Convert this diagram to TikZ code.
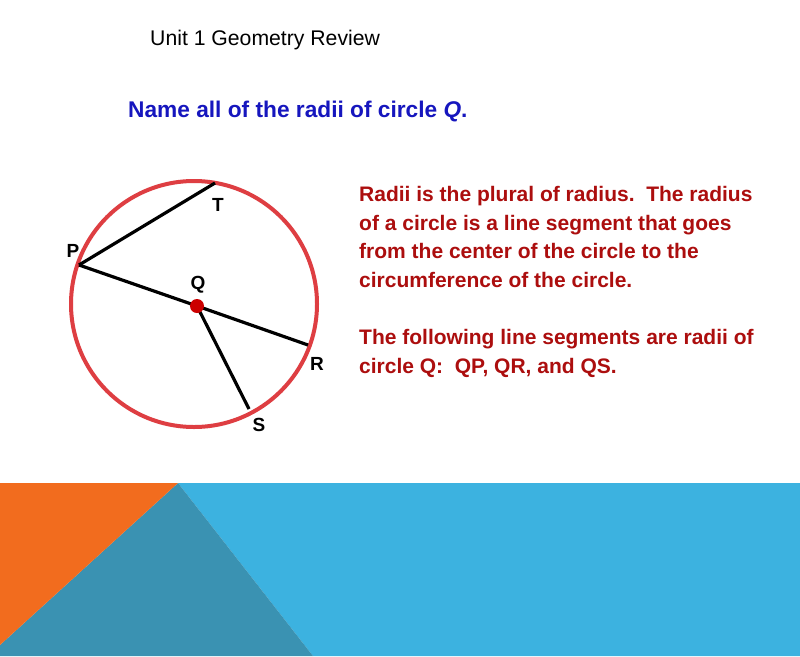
\documentclass[tikz,border=0pt]{standalone}
\usepackage{fontspec}
\setmainfont{Liberation Sans}
\usepackage{tikz}
\definecolor{ringred}{RGB}{222,62,66}
\definecolor{textred}{RGB}{172,14,14}
\definecolor{titleblue}{RGB}{22,22,190}
\definecolor{bandorange}{RGB}{242,108,30}
\definecolor{bandteal}{RGB}{58,146,178}
\definecolor{bandblue}{RGB}{60,178,224}
\tikzset{
  ptlabel/.style={font=\bfseries\fontsize{19}{19}\selectfont, inner sep=0pt},
  radius line/.style={line width=3.2pt, black}
}
\begin{document}
\begin{tikzpicture}[x=1pt,y=-1pt]
        \useasboundingbox (0,0) rectangle (800,656); % page
        \fill[white] (0,0) rectangle (800,656);
        % bands at the bottom
        \fill[bandblue] (178,483) -- (800,483) -- (800,656) -- (313,656) -- cycle;
        \fill[bandteal] (178,483) -- (313,656) -- (0,656) -- (0,645) -- cycle;
        \fill[bandorange] (0,483) -- (178,483) -- (0,645) -- cycle;
        % texts
        \node[anchor=base west, inner sep=0pt, font=\fontsize{21.2}{21.2}\selectfont] (title) at (150,45) {Unit 1 Geometry Review};
        \node[anchor=base west, inner sep=0pt, text=titleblue, font=\bfseries\fontsize{22.7}{22.7}\selectfont] (question) at (128,117) {Name all of the radii of circle \textit{Q}.};
        \node[anchor=north west, inner sep=0pt, align=left, text=textred, font=\bfseries\fontsize{21}{28.6}\selectfont] (answer) at (359,186)
          {Radii is the plural of radius.\ \ The radius\\ of a circle is a line segment that goes\\ from the center of the circle to the\\ circumference of the circle.\\[28.6pt] The following line segments are radii of\\ circle Q:\ \ QP, QR, and QS.};
        % circle
        \draw[ringred, line width=4pt] (194,304) circle (123); % окружность
        \coordinate (P) at (79,265);
        \coordinate (T) at (215,183);
        \coordinate (Q) at (197,306);
        \coordinate (R) at (308,345);
        \coordinate (S) at (249,409);
        \draw[radius line] (P) -- (T);
        \draw[radius line] (Q) -- (P);
        \draw[radius line] (Q) -- (R);
        \draw[radius line] (Q) -- (S);
        \fill[red!80!black] (Q) circle (7); % центр
        \node[ptlabel] (lP) at (73,251) {P};
        \node[ptlabel] (lT) at (218,205) {T};
        \node[ptlabel] (lQ) at (198,285) {Q};
        \node[ptlabel] (lR) at (317,364) {R};
        \node[ptlabel] (lS) at (259,425) {S};
\end{tikzpicture}
\end{document}
